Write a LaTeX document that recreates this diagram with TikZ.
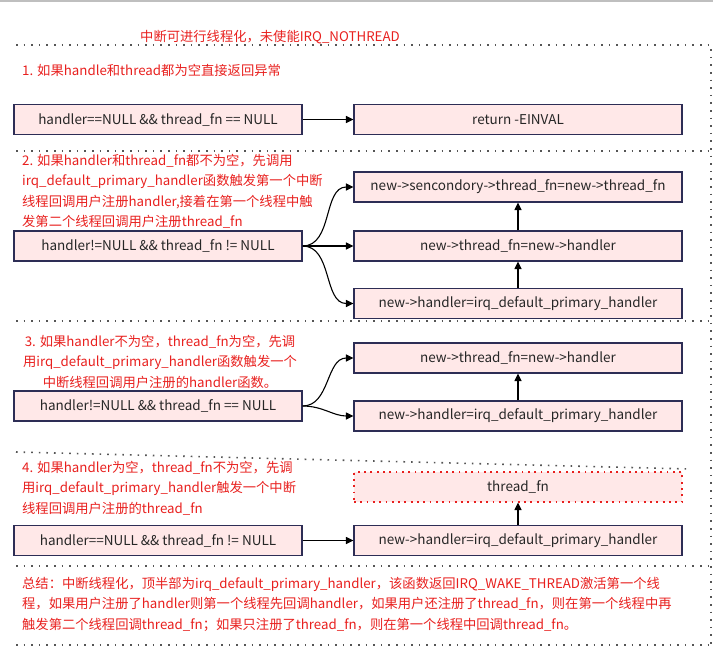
\documentclass[tikz,border=0pt]{standalone}
\usepackage{fontspec}
\setmainfont{Noto Sans CJK SC}
\usetikzlibrary{arrows.meta, positioning, calc}
\definecolor{boxpink}{RGB}{255,232,232}
\definecolor{boxline}{RGB}{45,45,85}
\definecolor{notered}{RGB}{232,32,30}
\definecolor{sepgray}{RGB}{85,85,85}

\tikzset{
  cond/.style={draw=boxline, fill=boxpink, line width=1.1pt, minimum width=288pt, minimum height=30pt, inner sep=0pt, text=black!85, font=\fontsize{13.5}{15}\selectfont},
  act/.style={cond, minimum width=328pt},
  ghost/.style={act, draw=notered, dash pattern=on 1.8pt off 4.5pt},
  note/.style={text=notered, inner sep=0pt, font=\fontsize{13.3}{20.5}\selectfont},
  flow/.style={-{Triangle[length=7.5pt,width=7pt]}, line width=1.1pt, black},
  sep/.style={sepgray, line width=1.6pt, dash pattern=on 1.6pt off 6pt}
}

\begin{document}
\begin{tikzpicture}[x=1pt,y=-1pt]
  \useasboundingbox (0,0) rectangle (713,649);
  \draw[black!25, line width=1.5pt] (0,0.75) -- (713,0.75);

  % section separators
  \draw[sep] (16,45) -- (711,45) -- (711,645);
  \draw[sep] (16,151) -- (711,151);
  \draw[sep] (16,321) -- (711,321);
  \draw[sep] (16,452) -- (690,469);
  \draw[sep] (16,566) -- (711,566);
  \draw[sep] (16,645) -- (711,645);

  \node[note] (title) at (270,37) {中断可进行线程化，未使能IRQ\_NOTHREAD};

  % 1
  \node[note, anchor=west] (note1) at (22,70) {1. 如果handle和thread都为空直接返回异常};
  \node[cond] (c1) at (158,119.5) {handler==NULL \&\& thread\_fn == NULL};
  \node[act] (einval) at (518,119.5) {return -EINVAL};
  \draw[flow] (c1) -- (einval);

  % 2
  \node[note, anchor=north west, align=left] (note2) at (22,154) {2. 如果handler和thread\_fn都不为空，先调用\\irq\_default\_primary\_handler函数触发第一个中断\\线程回调用户注册handler,接着在第一个线程中触\\发第二个线程回调用户注册thread\_fn};
  \node[cond] (c2) at (158,246) {handler!=NULL \&\& thread\_fn != NULL};
  \node[act] (second) at (518,187) {new->sencondory->thread\_fn=new->thread\_fn};
  \node[act] (tfn2) at (518,246) {new->thread\_fn=new->handler};
  \node[act] (prim2) at (518,303.5) {new->handler=irq\_default\_primary\_handler};
  \draw[flow] (c2.east) to[out=0, in=180] (second.west);
  \draw[flow] (c2.east) -- (tfn2.west);
  \draw[flow] (c2.east) to[out=0, in=180] (prim2.west);
  \draw[flow] (prim2) -- (tfn2);
  \draw[flow] (tfn2) -- (second);

  % 3
  \node[note, anchor=north, align=center] (note3) at (160,335) {3. 如果handler不为空，thread\_fn为空，先调\\用irq\_default\_primary\_handler函数触发一个\\中断线程回调用户注册的handler函数。};
  \node[cond] (c3) at (158,406) {handler!=NULL \&\& thread\_fn == NULL};
  \node[act] (tfn3) at (518,358) {new->thread\_fn=new->handler};
  \node[act] (prim3) at (518,416) {new->handler=irq\_default\_primary\_handler};
  \draw[flow] (c3.east) to[out=0, in=180] (tfn3.west);
  \draw[flow] (c3.east) to[out=0, in=180] (prim3.west);
  \draw[flow] (prim3) -- (tfn3);

  % 4
  \node[note, anchor=north west, align=left] (note4) at (22,461) {4. 如果handler为空，thread\_fn不为空，先调\\用irq\_default\_primary\_handler触发一个中断\\线程回调用户注册的thread\_fn};
  \node[ghost] (tfn4) at (518,487) {thread\_fn};
  \node[cond] (c4) at (158,540.5) {handler==NULL \&\& thread\_fn != NULL};
  \node[act] (prim4) at (518,540.5) {new->handler=irq\_default\_primary\_handler};
  \draw[flow] (c4) -- (prim4);
  \draw[flow] (prim4) -- (tfn4);

  % summary
  \node[note, anchor=north west, align=left] (summary) at (22,577) {总结：中断线程化，顶半部为irq\_default\_primary\_handler，该函数返回IRQ\_WAKE\_THREAD激活第一个线\\程，如果用户注册了handler则第一个线程先回调handler，如果用户还注册了thread\_fn，则在第一个线程中再\\触发第二个线程回调thread\_fn；如果只注册了thread\_fn，则在第一个线程中回调thread\_fn。};
\end{tikzpicture}
\end{document}
